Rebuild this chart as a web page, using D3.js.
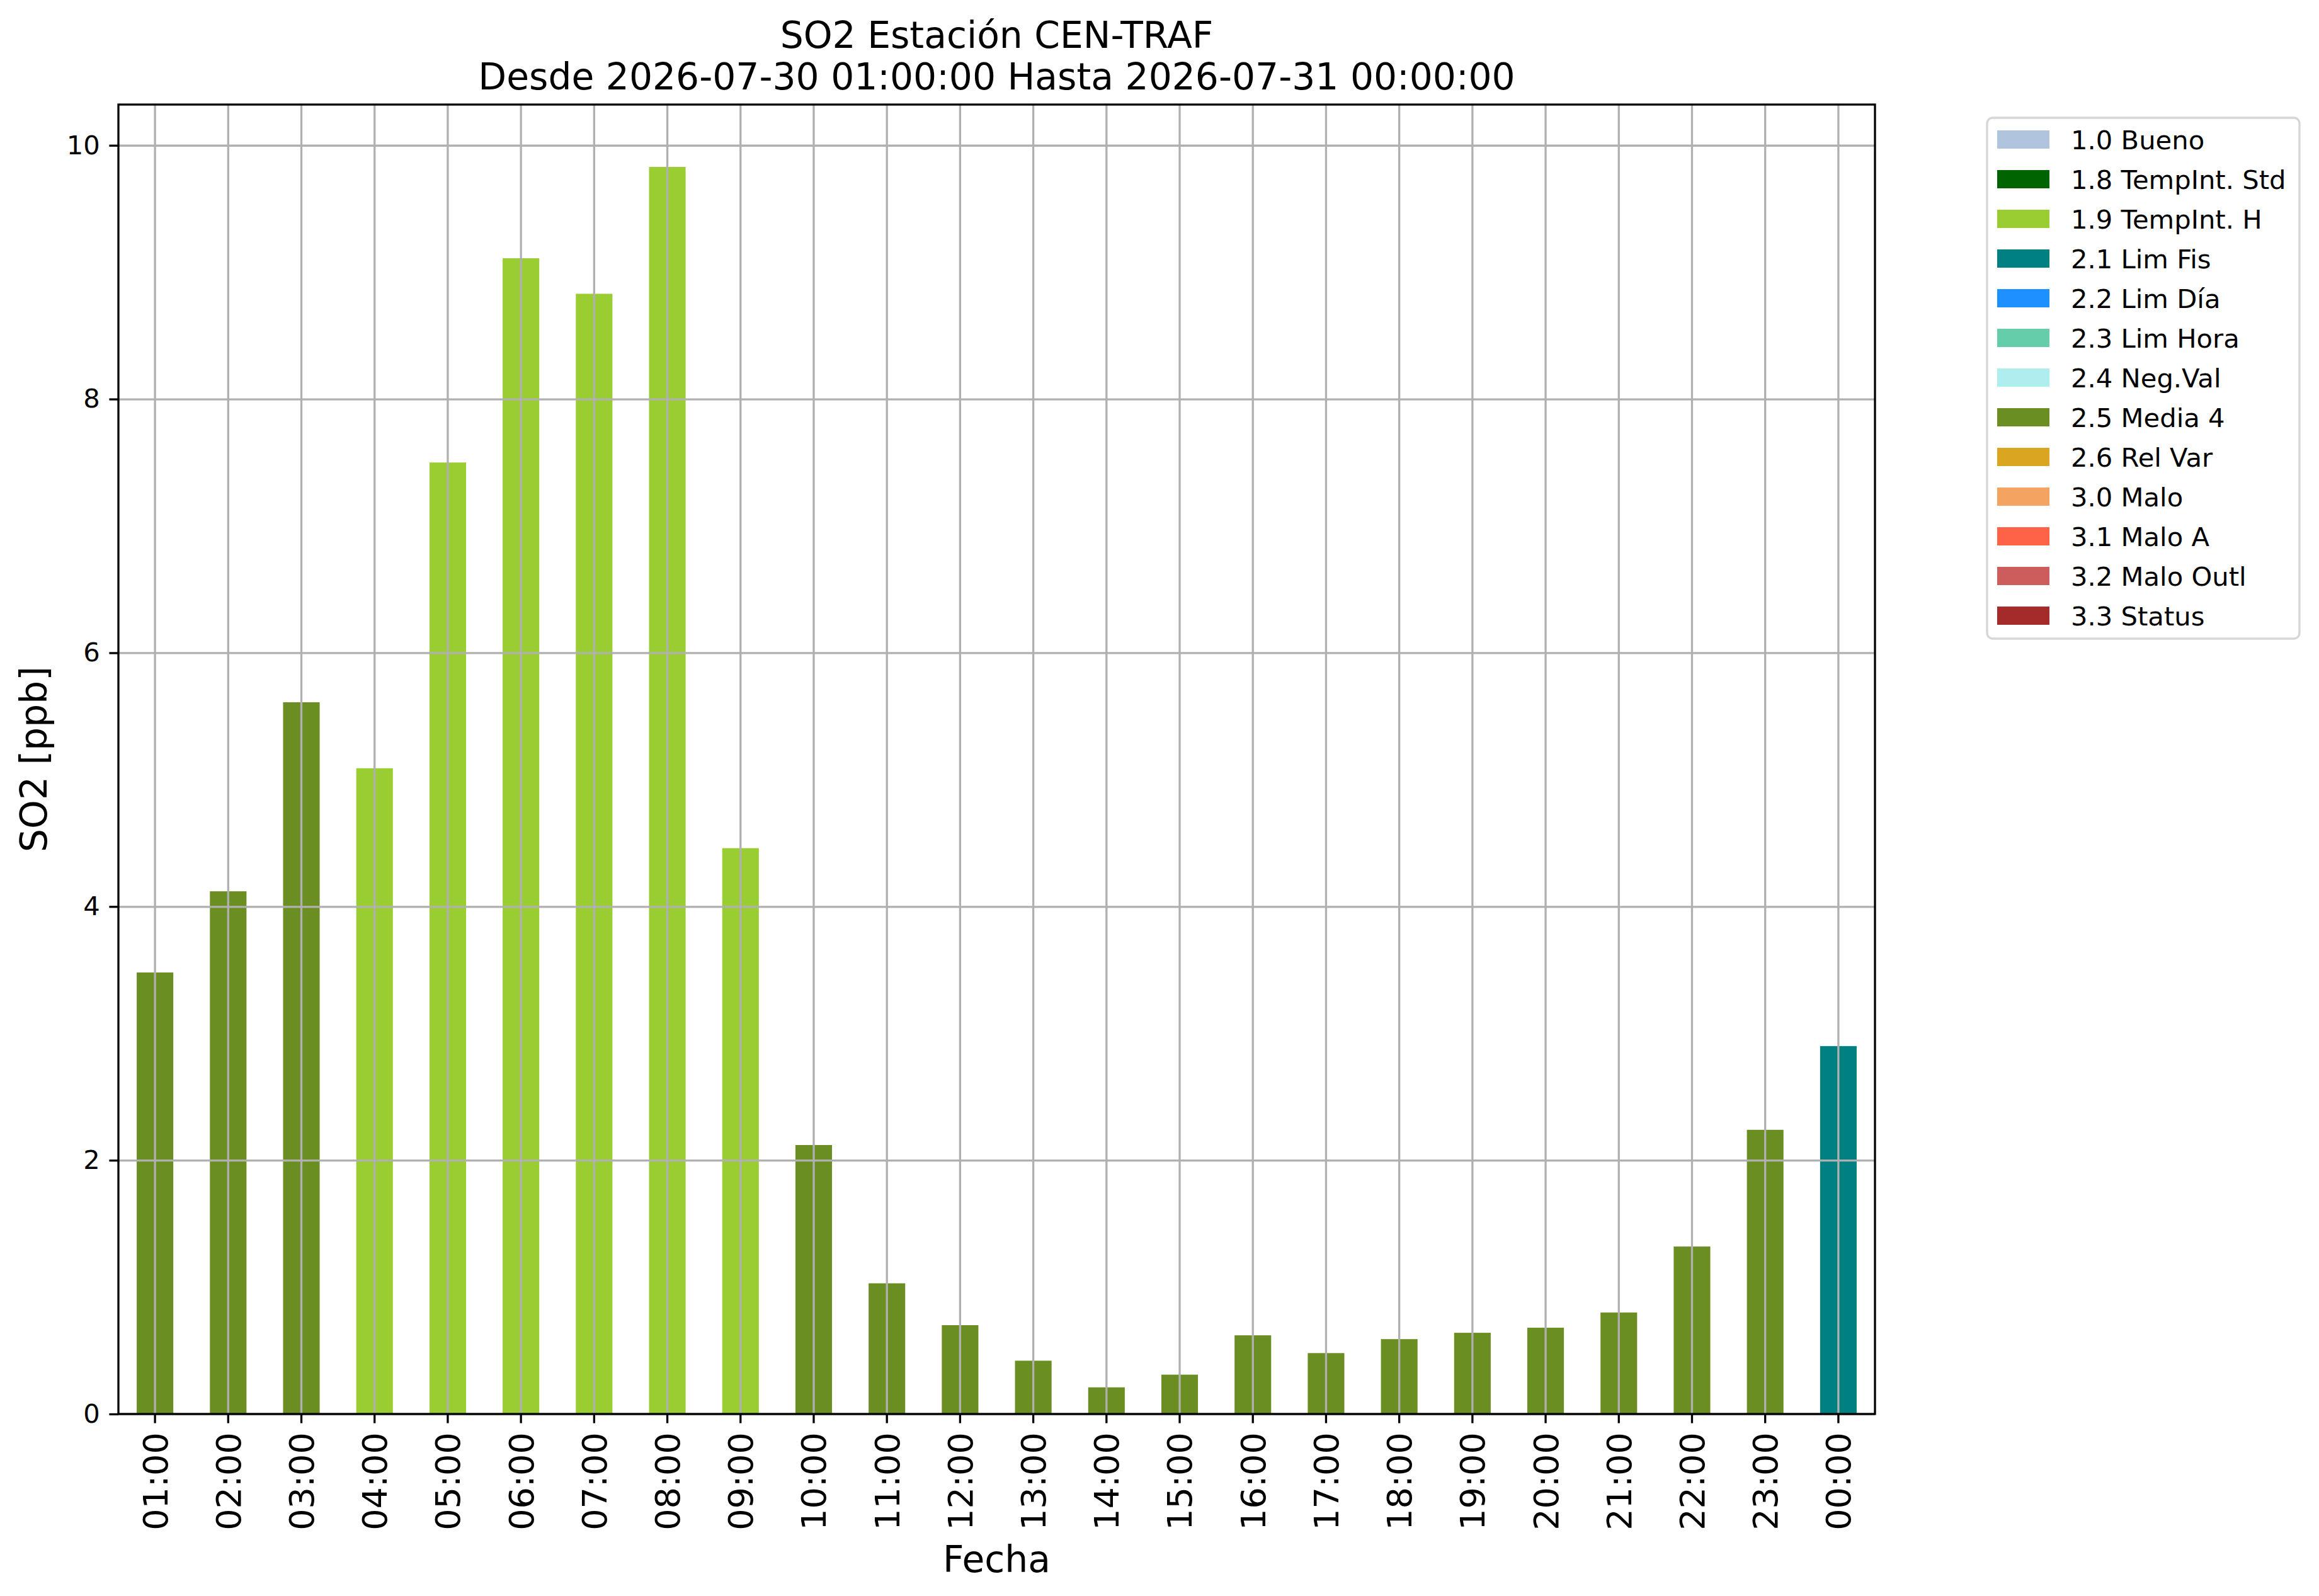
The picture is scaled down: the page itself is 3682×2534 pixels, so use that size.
<!DOCTYPE html>
<html>

<head>
    <meta charset="UTF-8">
    <style>
        body { margin: 0; background: #fff; }
        svg { display: block; font-family: "DejaVu Sans", sans-serif; }
    </style>
</head>

<body>
    <svg></svg>
    <script src="https://cdn.jsdelivr.net/npm/d3@7"></script>

    <script>
        const w = 3682;
        const h = 2534;
        const margin = {
            top: 166,
            bottom: 289,
            left: 188,
            right: 705
        };

        // data
        const hours = ["01:00", "02:00", "03:00", "04:00", "05:00", "06:00", "07:00", "08:00",
            "09:00", "10:00", "11:00", "12:00", "13:00", "14:00", "15:00", "16:00",
            "17:00", "18:00", "19:00", "20:00", "21:00", "22:00", "23:00", "00:00"];
        const so2 = [3.48, 4.12, 5.61, 5.09, 7.50, 9.11, 8.83, 9.83,
            4.46, 2.12, 1.03, 0.70, 0.42, 0.21, 0.31, 0.62,
            0.48, 0.59, 0.64, 0.68, 0.80, 1.32, 2.24, 2.90];
        const flags = ["2.5", "2.5", "2.5", "1.9", "1.9", "1.9", "1.9", "1.9",
            "1.9", "2.5", "2.5", "2.5", "2.5", "2.5", "2.5", "2.5",
            "2.5", "2.5", "2.5", "2.5", "2.5", "2.5", "2.5", "2.1"];

        // legend categories
        const flagCodes = ["1.0", "1.8", "1.9", "2.1", "2.2", "2.3", "2.4", "2.5", "2.6", "3.0", "3.1", "3.2", "3.3"];
        const flagNames = ["1.0 Bueno", "1.8 TempInt. Std", "1.9 TempInt. H", "2.1 Lim Fis", "2.2 Lim Día",
            "2.3 Lim Hora", "2.4 Neg.Val", "2.5 Media 4", "2.6 Rel Var", "3.0 Malo", "3.1 Malo A",
            "3.2 Malo Outl", "3.3 Status"];
        const flagColors = ["lightsteelblue", "darkgreen", "yellowgreen", "teal", "dodgerblue",
            "mediumaquamarine", "paleturquoise", "olivedrab", "goldenrod", "sandybrown",
            "tomato", "indianred", "brown"];

        const yTicks = [0, 2, 4, 6, 8, 10];

        const data = hours.map((d, i) => ({ hour: d, value: so2[i], flag: flags[i] }));

        const innerW = w - margin.left - margin.right;
        const innerH = h - margin.top - margin.bottom;

        let svg = d3.select("svg")
            .attr("width", w)
            .attr("height", h)
            .attr("viewBox", "0 0 " + w + " " + h);

        const color = d3.scaleOrdinal()
            .domain(flagCodes)
            .range(flagColors);

        // pandas bar: width 0.5, half a step of margin each side
        const x = d3.scaleBand()
            .domain(hours)
            .range([0, innerW])
            .paddingInner(0.5)
            .paddingOuter(0.25);

        const y = d3.scaleLinear()
            .domain([0, d3.max(so2) * 1.05])
            .range([innerH, 0]);

        const g = svg.append("g")
            .attr("transform", "translate(" + margin.left + "," + margin.top + ")");

        // bars
        g.append("g")
            .selectAll("rect")
            .data(data)
            .join("rect")
            .attr("x", d => x(d.hour))
            .attr("y", d => y(d.value))
            .attr("width", x.bandwidth())
            .attr("height", d => innerH - y(d.value))
            .attr("fill", d => color(d.flag));

        // grid sits on top of the bars
        const gridX = g.append("g")
            .attr("transform", "translate(0," + innerH + ")")
            .call(d3.axisBottom(x).tickSize(-innerH).tickFormat(""));
        const gridY = g.append("g")
            .call(d3.axisLeft(y).tickValues(yTicks).tickSize(-innerW).tickFormat(""));
        [gridX, gridY].forEach(a => {
            a.select(".domain").remove();
            a.selectAll("line")
                .attr("stroke", "#b0b0b0")
                .attr("stroke-width", 3.3);
        });

        // frame
        g.append("rect")
            .attr("width", innerW)
            .attr("height", innerH)
            .attr("fill", "none")
            .attr("stroke", "#000")
            .attr("stroke-width", 3.3);

        // axes
        const xAxis = g.append("g")
            .attr("transform", "translate(0," + innerH + ")")
            .call(d3.axisBottom(x).tickSizeInner(14.6).tickSizeOuter(0).tickPadding(14.6));
        xAxis.select(".domain").remove();
        xAxis.selectAll("line").attr("stroke", "#000").attr("stroke-width", 3.3);
        xAxis.selectAll("text")
            .attr("font-family", "DejaVu Sans")
            .attr("font-size", 54)
            .attr("fill", "#000")
            .attr("text-anchor", "end")
            .attr("transform", "rotate(-90)")
            .attr("x", -29.2)
            .attr("y", 0)
            .attr("dy", "0.36em");

        const yAxis = g.append("g")
            .call(d3.axisLeft(y).tickValues(yTicks).tickSizeInner(14.6).tickSizeOuter(0).tickPadding(14.6));
        yAxis.select(".domain").remove();
        yAxis.selectAll("line").attr("stroke", "#000").attr("stroke-width", 3.3);
        yAxis.selectAll("text")
            .attr("font-family", "DejaVu Sans")
            .attr("font-size", 41.7)
            .attr("fill", "#000");

        // labels
        svg.append("text")
            .attr("x", margin.left + innerW / 2)
            .attr("y", 2496)
            .attr("text-anchor", "middle")
            .attr("font-size", 58.3)
            .text("Fecha");

        svg.append("text")
            .attr("transform", "translate(74," + (margin.top + innerH / 2) + ") rotate(-90)")
            .attr("text-anchor", "middle")
            .attr("font-size", 58.3)
            .text("SO2 [ppb]");

        // title, two lines
        const titleLines = ["SO2 Estación CEN-TRAF", "Desde 2026-07-30 01:00:00 Hasta 2026-07-31 00:00:00"];
        svg.append("g")
            .selectAll("text")
            .data(titleLines)
            .join("text")
            .attr("x", margin.left + innerW / 2)
            .attr("y", (d, i) => 76 + i * 66)
            .attr("text-anchor", "middle")
            .attr("font-size", 58.3)
            .text(d => d);

        // legend
        const legend = svg.append("g")
            .attr("id", "legend")
            .attr("transform", "translate(3155,187)");

        legend.append("rect")
            .attr("width", 496)
            .attr("height", 827)
            .attr("rx", 9)
            .attr("fill", "#fff")
            .attr("stroke", "#d6d6d6")
            .attr("stroke-width", 3.3);

        const rowH = 63;
        const rows = legend.selectAll(".row")
            .data(flagNames)
            .join("g")
            .attr("class", "row")
            .attr("transform", (d, i) => "translate(0," + (34.5 + i * rowH) + ")");

        rows.append("rect")
            .attr("x", 16)
            .attr("y", -14.5)
            .attr("width", 83)
            .attr("height", 29)
            .attr("fill", (d, i) => flagColors[i]);

        rows.append("text")
            .attr("x", 133)
            .attr("dy", "0.36em")
            .attr("font-size", 41.7)
            .text(d => d);
    </script>

</body>

</html>
